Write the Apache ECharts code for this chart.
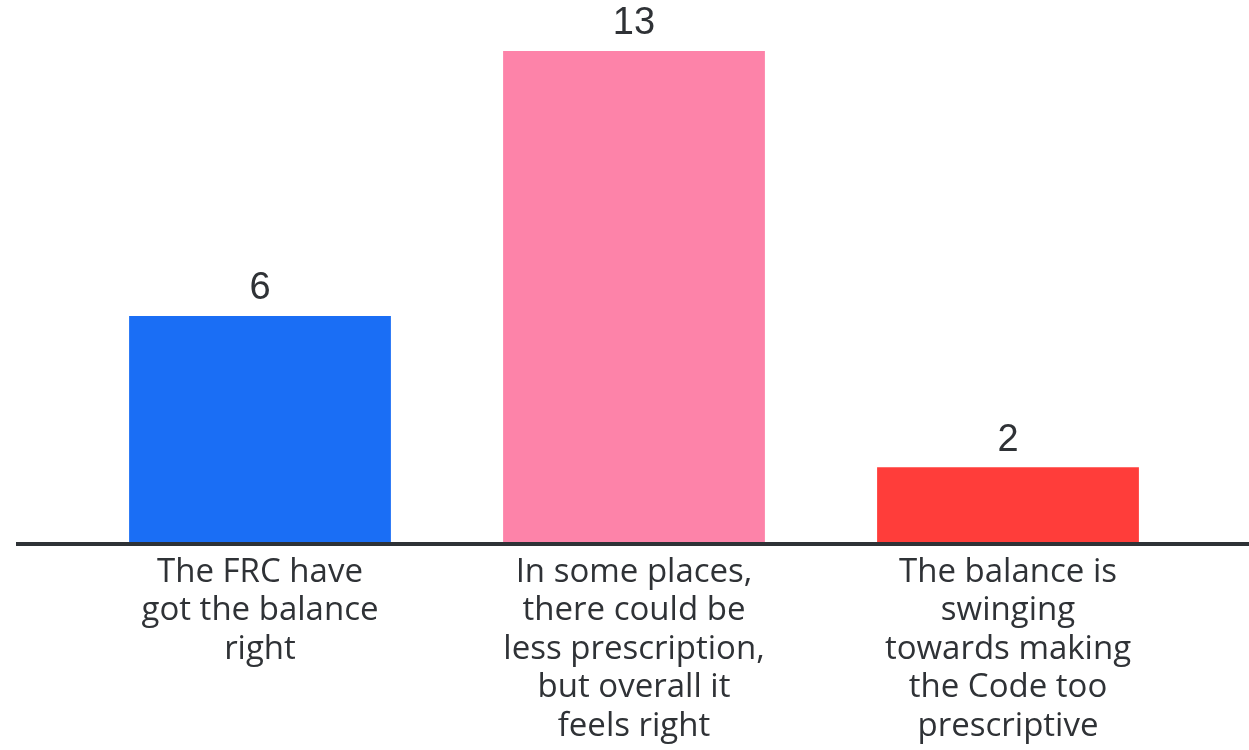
<!DOCTYPE html>
<html>
<head>
<meta charset="utf-8">
<script src="https://cdn.jsdelivr.net/npm/echarts@6/dist/echarts.min.js"></script>
<style>html,body{margin:0;padding:0;background:#fff;}#c{width:1249px;height:750px;}</style>
</head>
<body>
<div id="c"></div>
<script>
const categories = [
  "The FRC have\ngot the balance\nright",
  "In some places,\nthere could be\nless prescription,\nbut overall it\nfeels right",
  "The balance is\nswinging\ntowards making\nthe Code too\nprescriptive"
];
const values = [6, 13, 2];
const barColors = ["#1a6ef5", "#fd83a9", "#ff3d3a"];

const chart = echarts.init(document.getElementById('c'), null, {renderer: 'canvas'});
chart.setOption({
  animation: false,
  backgroundColor: '#ffffff',
  grid: {left: 73, right: 54, top: 51, bottom: 207, containLabel: false},
  xAxis: {
    type: 'category',
    data: categories,
    axisLine: {show: false},
    axisTick: {show: false},
    axisLabel: {
      interval: 0,
      margin: 10,
      color: '#2f3236',
      fontSize: 33,
      lineHeight: 38.5,
      fontFamily: 'Open Sans',
      align: 'center'
    }
  },
  yAxis: {type: 'value', min: 0, max: 13, show: false, splitLine: {show: false}},
  series: [{
    type: 'bar',
    barWidth: '70%',
    data: values.map((v, i) => ({value: v, itemStyle: {color: barColors[i]}})),
    label: {
      show: true,
      position: 'top',
      distance: 8,
      color: '#2f3236',
      fontSize: 38,
      fontFamily: 'Liberation Sans'
    }
  }]
});
const y0 = chart.convertToPixel({yAxisIndex: 0}, 0);
chart.setOption({
  graphic: [{
    type: 'line',
    z: 10,
    shape: {x1: 16, y1: y0 + 1, x2: 1249, y2: y0 + 1},
    style: {stroke: '#2e3236', lineWidth: 4}
  }]
});
</script>
</body>
</html>
